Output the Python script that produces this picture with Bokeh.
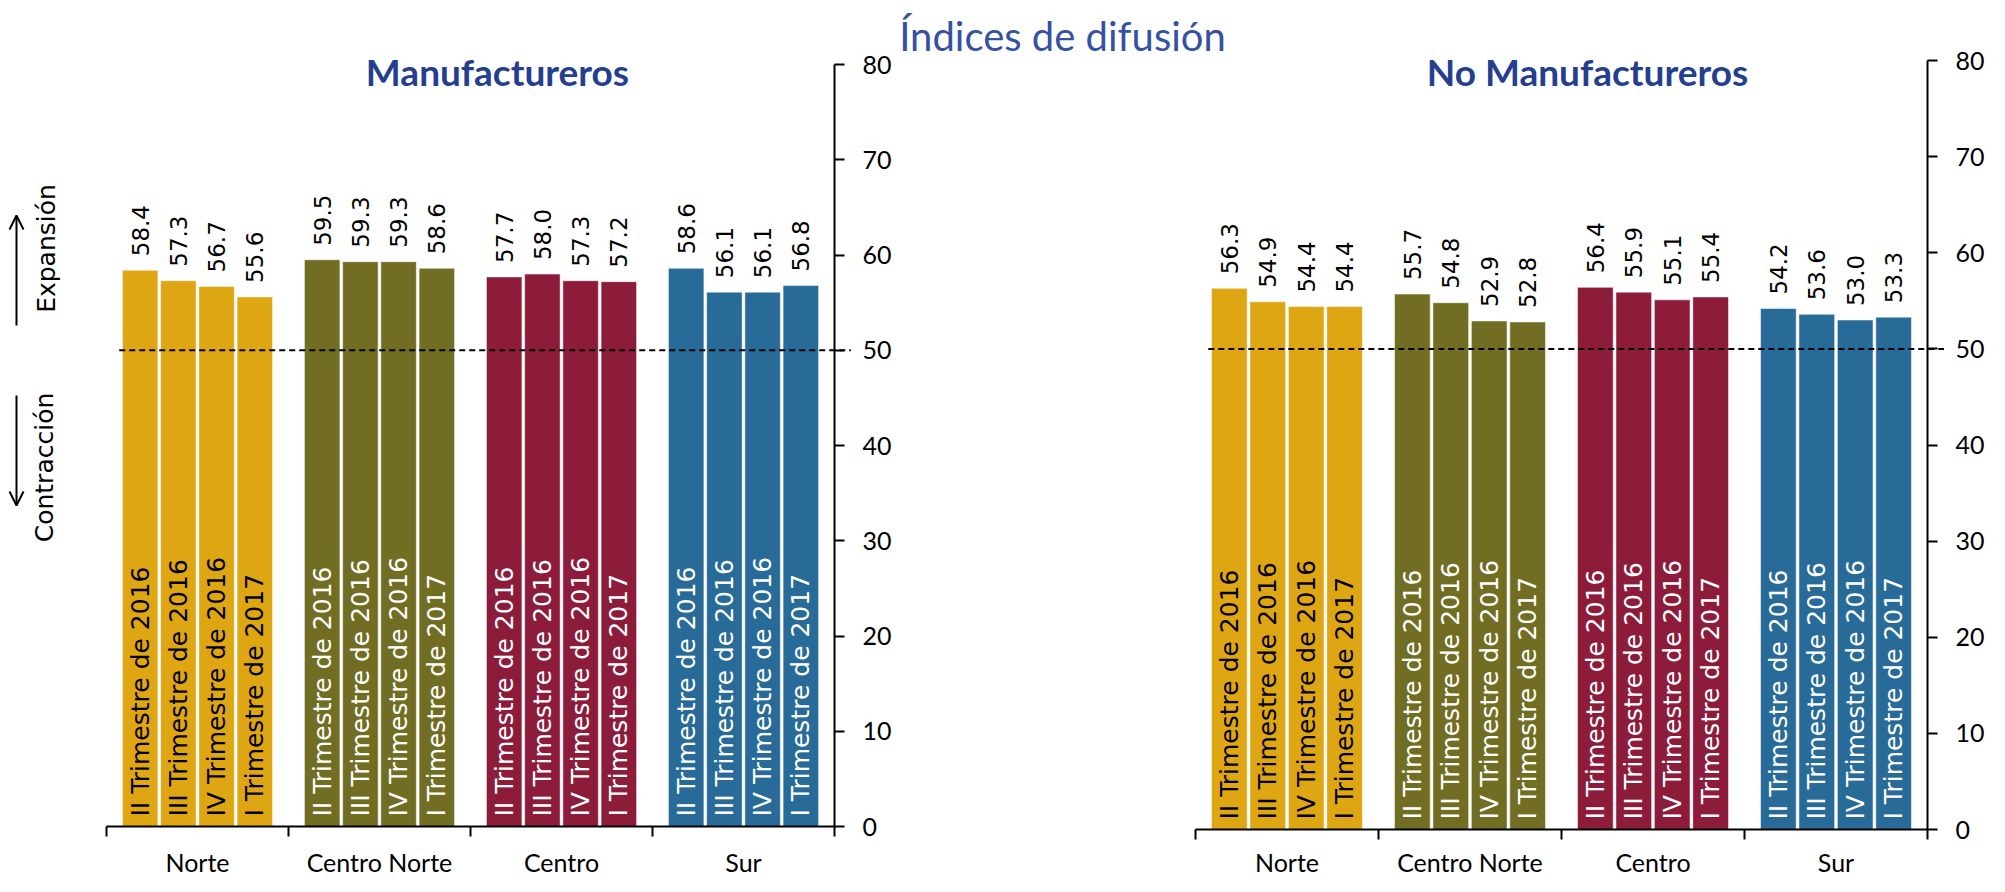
import math
from bokeh.plotting import figure
from bokeh.models import (Label, Arrow, OpenHead, FixedTicker, ColumnDataSource,
                          LinearAxis)
from bokeh.layouts import row
from bokeh.core.properties import value
from bokeh.embed import file_html
from bokeh.resources import INLINE

# ---------------- data ----------------
regions = ["Norte", "Centro Norte", "Centro", "Sur"]
periods = ["II Trimestre de 2016", "III Trimestre de 2016",
           "IV Trimestre de 2016", "I Trimestre de 2017"]
manuf_norte = [58.4, 57.3, 56.7, 55.6]
manuf_centro_norte = [59.5, 59.3, 59.3, 58.6]
manuf_centro = [57.7, 58.0, 57.3, 57.2]
manuf_sur = [58.6, 56.1, 56.1, 56.8]
nomanuf_norte = [56.3, 54.9, 54.4, 54.4]
nomanuf_centro_norte = [55.7, 54.8, 52.9, 52.8]
nomanuf_centro = [56.4, 55.9, 55.1, 55.4]
nomanuf_sur = [54.2, 53.6, 53.0, 53.3]
threshold = 50
y_ticks = [0, 10, 20, 30, 40, 50, 60, 70, 80]

region_colors = ["#DFA614", "#716E24", "#8D1C3B", "#286A98"]
inner_text_colors = ["black", "white", "white", "white"]

LABEL_FONT = value("DejaVu Sans")
H = 876


def make_chart(series, title, canvas_left, canvas_right, frame_left, px_per_x,
               zero_py, px_per_y, xlabel_standoff):
    # page -> data mapping (canvas top at page y=8, bottom at 8+H)
    x0 = (canvas_left - frame_left) / px_per_x
    x1 = (canvas_right - frame_left) / px_per_x
    y0 = (zero_py - (8 + H)) / px_per_y
    y1 = (zero_py - 8) / px_per_y
    p = figure(width=canvas_right - canvas_left, height=H, output_backend="svg",
               toolbar_location=None, x_range=(x0, x1), y_range=(y0, y1),
               min_border=0, x_axis_location=None, y_axis_location=None,
               outline_line_color=None, background_fill_color="white")
    p.grid.visible = False

    xs, tops, cols, txtcols, vals, cats = [], [], [], [], [], []
    for i, vals_r in enumerate(series):
        for j, v in enumerate(vals_r):
            xs.append(i + 0.5 + (j - 1.5) * 0.21)
            tops.append(v)
            cols.append(region_colors[i])
            txtcols.append(inner_text_colors[i])
            vals.append(f"{v:.1f}")
            cats.append(periods[j])
    src = ColumnDataSource(dict(x=xs, top=tops, color=cols, tcol=txtcols,
                                val=vals, cat=cats, zero=[0] * len(xs)))

    p.vbar(x="x", top="top", bottom=0, width=0.195, fill_color="color",
           line_color="white", line_alpha=0.5, line_width=1, source=src)

    p.segment(x0=[0.07], x1=[4.09], y0=[threshold], y1=[threshold],
              line_color="black", line_width=2, line_dash="6 4")

    p.text(x="x", y="top", text="val", angle=math.pi / 2, text_align="left",
           text_baseline="middle", y_offset=-14, text_font=LABEL_FONT,
           text_font_size="23px", text_color="black", source=src)
    p.text(x="x", y="zero", text="cat", angle=math.pi / 2, text_align="left",
           text_baseline="middle", y_offset=-10, text_font=LABEL_FONT,
           text_font_size="25px", text_color="tcol", source=src)

    # y axis at the right end of the group span
    ya = LinearAxis(fixed_location=4, bounds=(0, 80),
                    ticker=FixedTicker(ticks=y_ticks))
    ya.axis_line_color = "black"
    ya.axis_line_width = 2
    ya.major_tick_line_color = "black"
    ya.major_tick_line_width = 2
    ya.major_tick_out = 10
    ya.major_tick_in = 0
    ya.minor_tick_line_color = None
    ya.major_label_standoff = 18
    ya.major_label_text_font = "Lato"
    ya.major_label_text_font_size = "25px"
    ya.major_label_text_color = "black"
    p.add_layout(ya, "right")

    # x axis at zero
    xa = LinearAxis(fixed_location=0, bounds=(0, 4),
                    ticker=FixedTicker(ticks=[0.5, 1.5, 2.5, 3.5],
                                       minor_ticks=[0, 1, 2, 3, 4]))
    xa.major_label_overrides = {0.5: regions[0], 1.5: regions[1],
                                2.5: regions[2], 3.5: regions[3]}
    xa.axis_line_color = "black"
    xa.axis_line_width = 2
    xa.major_tick_line_color = None
    xa.major_tick_out = 0
    xa.major_tick_in = 0
    xa.minor_tick_line_color = "black"
    xa.minor_tick_line_width = 2
    xa.minor_tick_out = 10
    xa.minor_tick_in = 0
    xa.major_label_standoff = xlabel_standoff
    xa.major_label_text_font = "Lato"
    xa.major_label_text_font_size = "25px"
    xa.major_label_text_color = "black"
    p.add_layout(xa, "below")

    def dx(px):
        return (px - frame_left) / px_per_x

    def dy(py):
        return (zero_py - py) / px_per_y

    return p, dx, dy


# left chart: group span page x 114..842, y(0)=834, y(80)=72
p1, dx1, dy1 = make_chart(
    [manuf_norte, manuf_centro_norte, manuf_centro, manuf_sur],
    "Manufactureros", canvas_left=8, canvas_right=905, frame_left=114,
    px_per_x=182, zero_py=834, px_per_y=9.525, xlabel_standoff=10)

# right chart: group span page x 1203..1935, y(0)=837, y(80)=68
p2, dx2, dy2 = make_chart(
    [nomanuf_norte, nomanuf_centro_norte, nomanuf_centro, nomanuf_sur],
    "No Manufactureros", canvas_left=905, canvas_right=1997, frame_left=1203,
    px_per_x=183, zero_py=837, px_per_y=9.6125, xlabel_standoff=7)

# panel titles
p1.add_layout(Label(x=dx1(505), y=dy1(79), text="Manufactureros",
                    text_align="center", text_baseline="alphabetic",
                    text_font="Lato", text_font_style="bold",
                    text_font_size="37px", text_color="#243F8F"))
p2.add_layout(Label(x=dx2(1595), y=dy2(79), text="No Manufactureros",
                    text_align="center", text_baseline="alphabetic",
                    text_font="Lato", text_font_style="bold",
                    text_font_size="37px", text_color="#243F8F"))

# overall title
p2.add_layout(Label(x=dx2(1070), y=dy2(43), text="Índices de difusión",
                    text_align="center", text_baseline="alphabetic",
                    text_font="Lato", text_font_size="40px",
                    text_color="#3551A4"))

# expansion / contraction notes
p1.add_layout(Label(x=dx1(54), y=dy1(256), text="Expansión", angle=math.pi / 2,
                    text_align="center", text_baseline="middle",
                    text_font="DejaVu Sans", text_font_size="25px",
                    text_color="black"))
p1.add_layout(Label(x=dx1(52), y=dy1(475), text="Contracción", angle=math.pi / 2,
                    text_align="center", text_baseline="middle",
                    text_font="DejaVu Sans", text_font_size="25px",
                    text_color="black"))
p1.add_layout(Arrow(x_start=dx1(24), y_start=dy1(333), x_end=dx1(24), y_end=dy1(223),
                    line_width=2, line_color="black",
                    end=OpenHead(size=14, line_width=2, line_color="black")))
p1.add_layout(Arrow(x_start=dx1(24), y_start=dy1(403), x_end=dx1(24), y_end=dy1(513),
                    line_width=2, line_color="black",
                    end=OpenHead(size=14, line_width=2, line_color="black")))

layout = row(p1, p2)
open("out.html", "w").write(file_html(layout, INLINE))
